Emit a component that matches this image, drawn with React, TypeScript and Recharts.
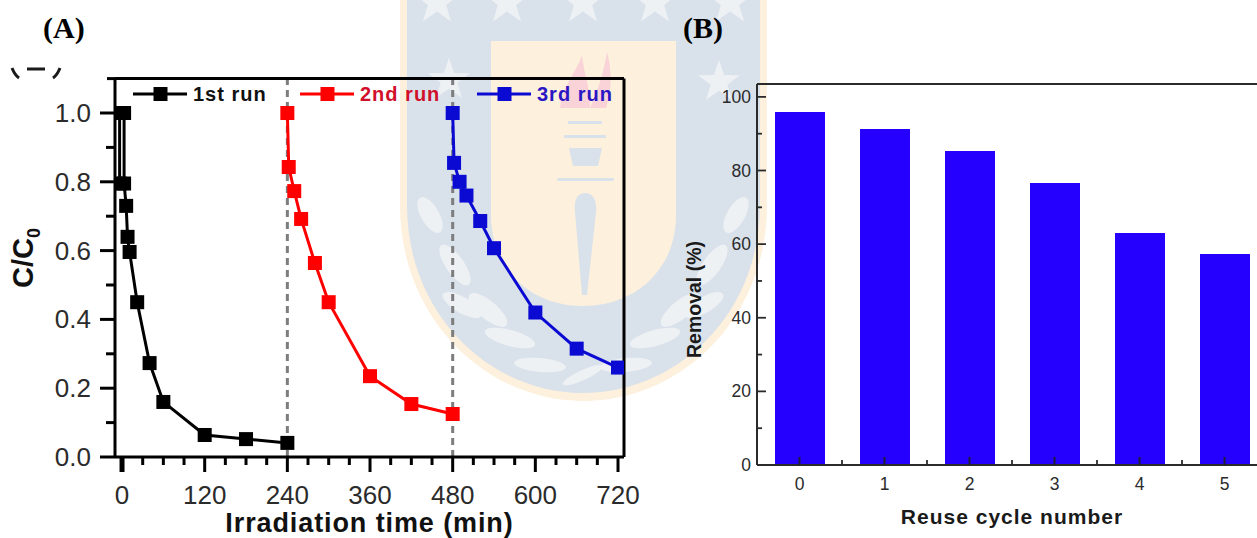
import React from 'react';
import { LineChart, Line, BarChart, Bar, XAxis, YAxis, ReferenceLine, Legend, Label } from 'recharts';

const run1Time = [-3.5, -3.5, 3, 3, 6, 8, 11, 22, 40, 60, 120, 180, 240];
const run1Value = [0.795, 1.0, 1.0, 0.795, 0.73, 0.64, 0.596, 0.45, 0.273, 0.16, 0.064, 0.052, 0.041];
const run2Time = [240, 242, 250, 260, 280, 300, 360, 420, 480];
const run2Value = [1.0, 0.843, 0.773, 0.692, 0.564, 0.45, 0.235, 0.154, 0.125];
const run3Time = [480, 482, 490, 500, 520, 540, 600, 660, 720];
const run3Value = [1.0, 0.855, 0.8, 0.76, 0.686, 0.607, 0.42, 0.315, 0.26];

const cycles = ['0', '1', '2', '3', '4', '5'];
const removal = [95.9, 91.3, 85.3, 76.6, 63, 57.3];

const yTicksA = [0, 0.1, 0.2, 0.3, 0.4, 0.5, 0.6, 0.7, 0.8, 0.9, 1.0, 1.1];
const yLabelsA = [0, 0.2, 0.4, 0.6, 0.8, 1.0];
const xTicksA = [0, 30, 60, 90, 120, 150, 180, 210, 240, 270, 300, 330, 360, 390, 420, 450, 480, 510, 540, 570, 600, 630, 660, 690, 720];
const xLabelsA = [0, 120, 240, 360, 480, 600, 720];
const yTicksB = [0, 10, 20, 30, 40, 50, 60, 70, 80, 90, 100];
const yLabelsB = [0, 20, 40, 60, 80, 100];

const zip = (t: number[], v: number[]) => t.map((time, i) => ({ time, value: v[i] }));
const barData = cycles.map((cycle, i) => ({ cycle, removal: removal[i] }));

const SANS = '"Liberation Sans", Arial, sans-serif';
const SERIF = '"Liberation Serif", "Times New Roman", serif';
const INK = '#2b2b2b';

const SquareDot = (p: any) => {
  const { cx, cy, stroke, index } = p;
  return <rect key={index} x={cx - 7} y={cy - 7} width={14} height={14} fill={stroke} />;
};

const YTickA = ({ x, y, payload }: any) => {
  const major = yLabelsA.includes(payload.value);
  if (payload.value === 1.1) return <line x1={x - 8} x2={x} y1={y} y2={y} stroke="#000" strokeWidth={3} />;
  return (
    <g>
      <line x1={x - (major ? 15 : 9)} x2={x} y1={y} y2={y} stroke="#000" strokeWidth={3} />
      {major && (
        <text x={x - 24} y={y + 9} textAnchor="end" fontFamily={SANS} fontSize={26} fill={INK}>
          {payload.value.toFixed(1)}
        </text>
      )}
    </g>
  );
};

const XTickA = ({ x, y, payload }: any) => {
  const major = xLabelsA.includes(payload.value);
  return (
    <g>
      <line x1={x} x2={x} y1={y} y2={y + (major ? 15 : 8)} stroke="#000" strokeWidth={payload.value === 0 ? 5 : 3} />
      {major && (
        <text x={x} y={y + 47} textAnchor="middle" fontFamily={SANS} fontSize={26} fill={INK}>
          {payload.value}
        </text>
      )}
    </g>
  );
};

const YTickB = ({ x, y, payload }: any) => {
  const major = yLabelsB.includes(payload.value);
  return (
    <g>
      <line x1={x} x2={x + (major ? 9 : 5)} y1={y} y2={y} stroke={INK} strokeWidth={1.8} />
      {major && (
        <text x={x - 6} y={y + 6} textAnchor="end" fontFamily={SANS} fontSize={17.5} fill={INK}>
          {payload.value}
        </text>
      )}
    </g>
  );
};

const XTickB = ({ x, y, payload }: any) => (
  <g>
    <line x1={x + 42.5} x2={x + 42.5} y1={y} y2={y - 5} stroke={INK} strokeWidth={1.8} />
    <text x={x} y={y + 25} textAnchor="middle" fontFamily={SANS} fontSize={17.5} fill={INK}>
      {payload.value}
    </text>
  </g>
);

// Major ticks sit on top of the bars, so they live on an axis in a transparent chart above them.
const XTickMajorB = ({ x, y }: any) => (
  <line x1={x} x2={x} y1={y} y2={y - 8} stroke="#1c1c3a" strokeWidth={2} />
);

const legendSpots = [
  { left: 133, text: '#111111' },
  { left: 300, text: '#d0102a' },
  { left: 477, text: '#2a16c4' },
];

const RunLegend = ({ payload }: any) => (
  <svg width={640} height={30} style={{ position: 'absolute', left: 0, top: 79, overflow: 'visible' }}>
    {(payload || []).map((e: any, i: number) => {
      const s = legendSpots[i];
      return (
        <g key={e.value}>
          <line x1={s.left} x2={s.left + 54} y1={15} y2={15} stroke={e.color} strokeWidth={3} />
          <rect x={s.left + 20.5} y={8} width={14} height={14} fill={e.color} />
          <text x={s.left + 60} y={22} fontFamily={SANS} fontWeight={700} fontSize={20} letterSpacing={1} fill={s.text}>
            {e.value}
          </text>
        </g>
      );
    })}
  </svg>
);

const Star = ({ cx, cy, r }: { cx: number; cy: number; r: number }) => {
  const pts = Array.from({ length: 10 }, (_, i) => {
    const a = (Math.PI / 5) * i - Math.PI / 2;
    const q = i % 2 ? r * 0.4 : r;
    return `${cx + q * Math.cos(a)},${cy + q * Math.sin(a)}`;
  }).join(' ');
  return <polygon points={pts} fill="#eef1f4" />;
};

const leaves: [number, number, number, number, number][] = [
  [430, 215, 20, 9, 60], [455, 265, 24, 9, 55], [488, 310, 24, 9, 40], [510, 338, 26, 8, 15], [540, 365, 26, 7, 5],
  [736, 215, 20, 9, -60], [712, 265, 24, 9, -55], [680, 310, 24, 9, -40], [655, 338, 26, 8, -15], [626, 365, 26, 7, -5],
  [462, 305, 22, 8, 30], [704, 305, 22, 8, -30], [583, 375, 22, 5, -25],
];

const Watermark = () => (
  <svg width={1257} height={538} style={{ position: 'absolute', left: 0, top: 0 }}>
    <path d="M400 0 H767 V205 C767 320 680 401 583 401 C487 401 400 320 400 205 Z" fill="#fdf0dc" />
    <path d="M407 0 H760 V205 C760 315 676 393 583 393 C490 393 407 315 407 205 Z" fill="#d9e1eb" />
    <path d="M491 41 H676 V215 C676 270 635 306 583 306 C531 306 491 270 491 215 Z" fill="#fdf0dc" />
    {[[437, 2], [507, 2], [583, 2], [655, 2], [730, 2]].map(([x, y]) => (
      <Star key={x} cx={x} cy={y} r={24} />
    ))}
    <Star cx={449} cy={80} r={22} />
    <Star cx={719} cy={82} r={22} />
    {leaves.map(([x, y, a, b, r]) => (
      <ellipse key={`${x}-${y}`} cx={x} cy={y} rx={a} ry={b} transform={`rotate(${r} ${x} ${y})`} fill="#eef1f4" />
    ))}
    <path d="M560 108 C565 80 578 70 582 55 C584 75 590 85 590 108 Z" fill="#f9d3d8" />
    <path d="M590 108 C600 85 604 70 607 52 C612 70 612 90 606 108 Z" fill="#f9d3d8" />
    <rect x="568" y="121" width="34" height="3" fill="#d9e1eb" />
    <rect x="564" y="135" width="42" height="3" fill="#d9e1eb" />
    <polygon points="569,148 602,148 598,166 573,166" fill="#d9e1eb" />
    <rect x="557" y="178" width="57" height="3" rx="1.5" fill="#d9e1eb" />
    <path d="M585 193 C576 193 574 202 575 212 L582 295 H587 L596 212 C597 202 594 193 585 193 Z" fill="#d9e1eb" />
    <path d="M12 68 C14 73 16 76 19 78 M60 68 C58 73 56 76 53 78 M27 69 H45" stroke="#1a1a1a" strokeWidth={3} fill="none" />
  </svg>
);

const CLabel = () => (
  <text transform="rotate(-90 33 258)" x={33} y={258} textAnchor="middle" fontFamily={SANS} fontWeight={700} fontSize={29} fill="#111">
    C/C<tspan fontSize={18} dy={7}>0</tspan>
  </text>
);

export default function App() {
  return (
    <div style={{ position: 'fixed', left: 0, top: 0, width: 1257, height: 538, overflow: 'hidden', background: '#fff' }}>
      <Watermark />
      <div style={{ position: 'absolute', left: 43, top: 11, font: `700 30px ${SERIF}`, color: '#000' }}>(A)</div>
      <div style={{ position: 'absolute', left: 683, top: 11, font: `700 30px ${SERIF}`, color: '#000' }}>(B)</div>

      <div style={{ position: 'absolute', left: 0, top: 0 }}>
        <LineChart width={700} height={538} margin={{ left: 0, top: 77.6, right: 75, bottom: 0 }}>
          <XAxis
            type="number" dataKey="time" domain={[-10.2, 728.7]} allowDataOverflow ticks={xTicksA} interval={0}
            height={81} tickSize={0} tickMargin={0} tickLine={false} tick={<XTickA />}
            axisLine={{ stroke: '#000', strokeWidth: 3 }}
            label={{ value: 'Irradiation time (min)', position: 'insideBottom', offset: 6, style: { fontFamily: SANS, fontWeight: 700, fontSize: 27, letterSpacing: 0.9, fill: '#111' } }}
          />
          <XAxis xAxisId="top" orientation="top" type="number" domain={[-10.2, 728.7]} height={1} tick={false} tickLine={false} axisLine={{ stroke: '#000', strokeWidth: 3 }} />
          <YAxis
            type="number" domain={[0, 1.1]} allowDataOverflow ticks={yTicksA} interval={0}
            width={115} tickSize={0} tickMargin={0} tickLine={false} tick={<YTickA />}
            axisLine={{ stroke: '#000', strokeWidth: 3 }}
          >
            <Label content={<CLabel />} />
          </YAxis>
          <YAxis yAxisId="right" orientation="right" type="number" domain={[0, 1.1]} width={1} tick={false} tickLine={false} axisLine={{ stroke: '#000', strokeWidth: 3 }} />
          <ReferenceLine x={240} stroke="#7d7d7d" strokeWidth={3} strokeDasharray="7 5" />
          <ReferenceLine x={480} stroke="#7d7d7d" strokeWidth={3} strokeDasharray="7 5" />
          <Line data={zip(run1Time, run1Value)} dataKey="value" name="1st run" stroke="#000000" strokeWidth={3} dot={SquareDot} isAnimationActive={false} />
          <Line data={zip(run2Time, run2Value)} dataKey="value" name="2nd run" stroke="#ff0000" strokeWidth={3} dot={SquareDot} isAnimationActive={false} />
          <Line data={zip(run3Time, run3Value)} dataKey="value" name="3rd run" stroke="#0a0ad2" strokeWidth={3} dot={SquareDot} isAnimationActive={false} />
          <Legend layout="horizontal" align="center" verticalAlign="middle" content={<RunLegend />} wrapperStyle={{ position: 'absolute', left: 0, top: 0, width: 0, height: 0 }} />
        </LineChart>
      </div>

      <div style={{ position: 'absolute', left: 650, top: 0 }}>
        <BarChart width={650} height={538} data={barData} margin={{ left: 0, top: 83, right: 33, bottom: 0 }} barSize={50}>
          <Bar dataKey="removal" fill="#2600ff" isAnimationActive={false} />
          <XAxis
            dataKey="cycle" interval={0} height={73} tickSize={0} tickMargin={0} tickLine={false} tick={<XTickB />}
            axisLine={{ stroke: INK, strokeWidth: 2 }}
            label={{ value: 'Reuse cycle number', position: 'insideBottom', offset: 14, style: { fontFamily: SANS, fontWeight: 700, fontSize: 21, letterSpacing: 1, fill: '#1a1a1a' } }}
          />
          <XAxis xAxisId="top" orientation="top" dataKey="cycle" height={1} tick={false} tickLine={false} axisLine={{ stroke: INK, strokeWidth: 2 }} />
          <YAxis
            type="number" domain={[0, 103.5]} allowDataOverflow ticks={yTicksB} interval={0}
            width={107} tickSize={0} tickMargin={0} tickLine={false} tick={<YTickB />}
            axisLine={{ stroke: INK, strokeWidth: 2 }}
            label={{ value: 'Removal (%)', angle: -90, position: 'insideLeft', offset: 44, dy: 25, style: { fontFamily: SANS, fontWeight: 700, fontSize: 19.5, fill: '#1a1a1a', textAnchor: 'middle' } }}
          />
        </BarChart>
      </div>

      <div style={{ position: 'absolute', left: 650, top: 0, pointerEvents: 'none' }}>
        <BarChart width={650} height={538} data={barData} margin={{ left: 107, top: 84, right: 33, bottom: 0 }}>
          <XAxis dataKey="cycle" interval={0} height={73} tickSize={0} tickMargin={0} tickLine={false} tick={<XTickMajorB />} axisLine={{ stroke: INK, strokeWidth: 2 }} />
        </BarChart>
      </div>
    </div>
  );
}
